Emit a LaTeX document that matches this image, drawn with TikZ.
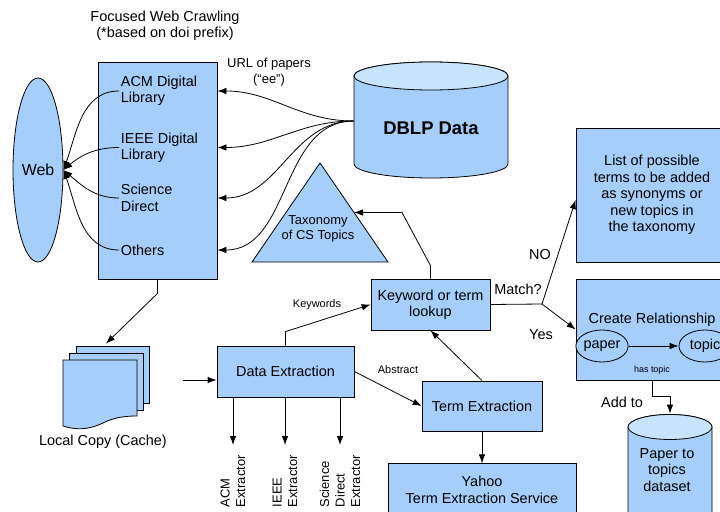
\documentclass[tikz,border=0pt]{standalone}
\usepackage{fontspec}
\setmainfont{Liberation Sans}
\usepackage{tikz}
\usetikzlibrary{
    arrows.meta,
    positioning,
    shapes.geometric,
    calc
}

\definecolor{boxblue}{HTML}{A6CEFA}
\definecolor{toplight}{HTML}{C8E3FC}

\begin{document}
\begin{tikzpicture}[
  x = 1bp, y = 1bp,
  >={Latex[length=9bp, width=6.5bp]},
  line width = 0.8bp,
  every node/.style = {font=\fontsize{14.5}{16.5}\selectfont},
  process/.style = {rectangle, draw, fill=boxblue, align=center},
  oval/.style    = {ellipse, draw, fill=boxblue, inner sep=0pt},
  entry/.style   = {anchor=west, align=left, inner sep=1.5bp},
  extractor/.style = {rotate=90, anchor=east, align=left, inner xsep=10bp,
                      font=\fontsize{13}{15.5}\selectfont},
  lbl/.style     = {font=\fontsize{11}{13}\selectfont},
  lbltiny/.style = {font=\fontsize{9}{11}\selectfont},
  page/.style    = {draw, fill=boxblue}
]
\useasboundingbox (0,0) rectangle (720,-512);
\clip (0,0) rectangle (720,-512);

% Crawling part
\node[align=center] (title) at (165,-26) {Focused Web Crawling\\(*based on doi prefix)};
\node[oval, minimum width=50bp, minimum height=184bp, font=\fontsize{16}{18}\selectfont] (web) at (38,-170) {Web};
\node[process, minimum width=119bp, minimum height=217bp] (crawl) at (157.5,-170.5) {};
\node[entry] (acm) at (119,-91) {ACM Digital\\Library};
\node[entry] (ieee) at (119,-147.5) {IEEE Digital\\Library};
\node[entry] (sci) at (119,-198) {Science\\Direct};
\node[entry] (oth) at (119,-250) {Others};

% DBLP cylinder
\path[draw, fill=boxblue] (354,-76) -- (354,-164)
  arc[start angle=180, end angle=360, x radius=77, y radius=14] -- (508,-76)
  arc[start angle=0, end angle=180, x radius=77, y radius=14] -- cycle;
\draw[fill=toplight] (431,-76) ellipse[x radius=77, y radius=14];
\node[minimum width=154bp, minimum height=116bp] (dblp) at (431,-121) {};
\node[font=\fontsize{18.5}{20}\selectfont\bfseries] (dblptext) at (431,-128) {DBLP Data};
\node[align=center, font=\fontsize{13}{16}\selectfont] (url) at (269,-72) {URL of papers\\(“ee”)};

\foreach \n in {acm, ieee, sci, oth}
  \draw[->] (dblp.west) to[out=180, in=0] (crawl.east |- \n);
\foreach \n/\a in {acm/70, ieee/40, sci/-40, oth/-70}
  \draw[->] (\n.west) to[out=180, in=\a] (web.east);

% Taxonomy
\coordinate (tapex) at (320,-163);
\coordinate (tleft) at (252,-262);
\coordinate (tright) at (388,-262);
\draw[fill=boxblue] (tapex) -- (tright) -- (tleft) -- cycle;
\node[align=center, font=\fontsize{13}{14.5}\selectfont] (tax) at (318,-229) {Taxonomy\\of CS Topics};
\coordinate (taxin) at ($(tapex)!0.5!(tright)$);

% Local copy
\node[minimum width=86bp, minimum height=84bp] (cache) at (106,-386) {};
\draw[page] (76,-346) rectangle (149,-403);
\draw[page] (69,-353) rectangle (143,-410);
\draw[page] (63,-360) -- (137,-360) -- (137,-416)
  .. controls (120,-416) and (112,-419) .. (105,-422)
  .. controls (95,-427) and (82,-432) .. (63,-426) -- cycle;
\node (cachelbl) at (103,-442) {Local Copy (Cache)};
\draw[->] (crawl.south) -- ++(0,-14) -- (cache.north);

% Extraction
\node[process, minimum width=137bp, minimum height=51bp] (de) at (285.5,-371.5) {Data Extraction};
\node[process, minimum width=119bp, minimum height=51bp] (kw) at (430.5,-304.5) {Keyword or term\\lookup};
\node[process, minimum width=120bp, minimum height=50bp] (term) at (482,-406) {Term Extraction};
\node[process, minimum width=188bp, minimum height=52bp, below=32bp of term] (yahoo) {Yahoo\\Term Extraction Service};

\coordinate (cachein) at (183,-380);
\draw[->] (cachein) -- (cachein -| de.west);

\node[extractor] (acmx) at (233,-445) {ACM\\Extractor};
\node[extractor] (ieeex) at (285,-445) {IEEE\\Extractor};
\node[extractor] (sdx) at (340,-445) {Science\\Direct\\Extractor};
\foreach \n in {acmx, ieeex, sdx}
  \draw[->] (de.south -| \n.east) -- (\n.east);

\draw[->] (de.north) -- ++(0,14) -- (kw.west);
\node[lbl] (kwlbl) at (317,-305) {Keywords};
\draw[->] (de.east) -- (term.west);
\node[lbl] (abslbl) at (398,-370) {Abstract};
\draw[->] (term.north) -- (kw.south);
\draw[->] (term) -- (yahoo);
\draw[->] (kw.north) -- ++(0,13) -- ([xshift=48bp]taxin) -- (taxin);

% Match
\node[process, minimum width=152bp, minimum height=134bp] (list) at (652,-195)
  {List of possible\\terms to be added\\as synonyms or\\new topics in\\the taxonomy};
\node[process, minimum width=152bp, minimum height=101bp] (create) at (652,-329.5) {};
\node (crlbl) at (652,-320) {Create Relationship};
\node[oval, minimum width=51bp, minimum height=32bp] (paper) at (602,-346) {paper};
\node[oval, minimum width=52bp, minimum height=32bp] (topic) at (705,-346) {topic};
\draw[->] (paper) -- (topic);
\node[lbltiny] (hastopic) at (652,-370) {has topic};

\coordinate (split) at (542,-304);
\draw (kw.east) -- (split);
\draw[->] (split) -- ([yshift=-5bp]list.west);
\draw[->] (split) -- (create.west);
\node (matchlbl) at (518,-289) {Match?};
\node (nolbl) at (540,-255) {NO};
\node (yeslbl) at (541,-335) {Yes};

% Paper to topics dataset
\path[draw, fill=boxblue] (628,-427) -- (628,-540) -- (712,-540) -- (712,-427)
  arc[start angle=0, end angle=180, x radius=42, y radius=12.5] -- cycle;
\draw[fill=toplight] (670,-427) ellipse[x radius=42, y radius=12.5];
\node[minimum width=84bp, minimum height=116bp] (ptd) at (670,-472) {};
\node[align=center] (ptdtext) at (667,-470) {Paper to\\topics\\dataset};
\draw[->] (create.south) -- ++(0,-16) -| (ptd.north);
\node (addto) at (622,-402) {Add to};

\end{tikzpicture}
\end{document}
